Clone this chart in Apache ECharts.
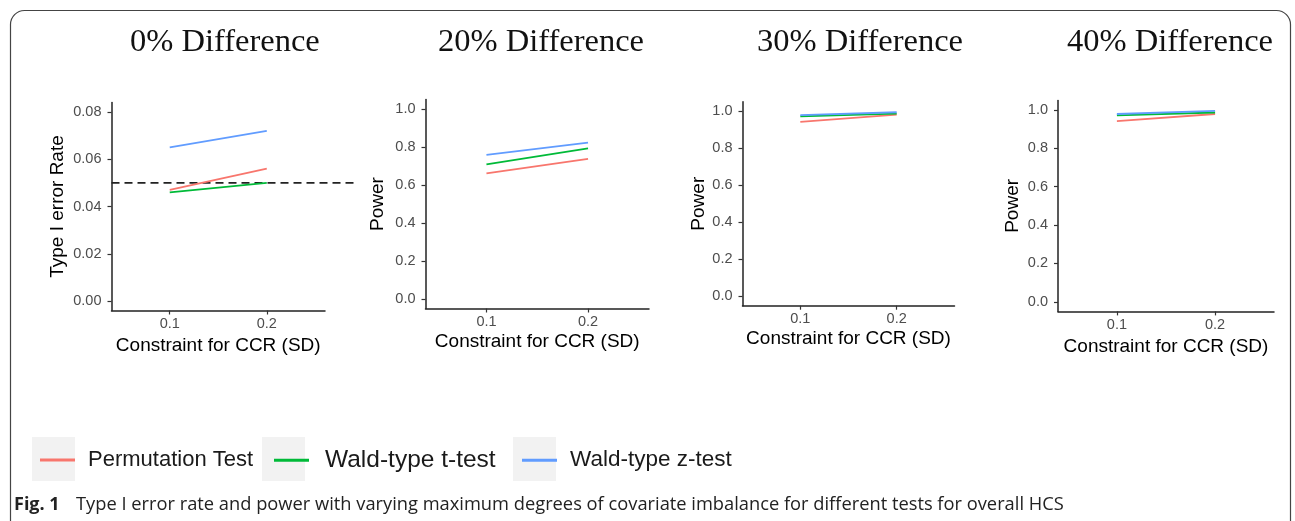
<!DOCTYPE html>
<html>
<head>
<meta charset="utf-8">
<script src="https://cdn.jsdelivr.net/npm/echarts@6/dist/echarts.min.js"></script>
<style>html,body{margin:0;padding:0;background:#fff}#c{width:1295px;height:521px}</style>
</head>
<body>
<div id="c"></div>
<script>
// ---- data ----
const panelTitles = ['0% Difference', '20% Difference', '30% Difference', '40% Difference'];
const yAxisNames = ['Type I error Rate', 'Power', 'Power', 'Power'];
const xName = 'Constraint for CCR (SD)';
const xValues = [0.1, 0.2];
const xTickLabels = [0.1, 0.2];
const yTicksError = [0, 0.02, 0.04, 0.06, 0.08];
const yTicksPower = [0, 0.2, 0.4, 0.6, 0.8, 1.0];
const seriesNames = ['Permutation Test', 'Wald-type t-test', 'Wald-type z-test'];
const permutationTest = [[0.047, 0.056], [0.661, 0.738], [0.941, 0.980], [0.942, 0.979]];
const waldT = [[0.046, 0.050], [0.709, 0.793], [0.971, 0.986], [0.972, 0.987]];
const waldZ = [[0.065, 0.072], [0.758, 0.823], [0.978, 0.993], [0.979, 0.995]];
const nominalLevel = 0.05;
const nominalLineX = [0.04, 0.29];
const captionBold = 'Fig. 1';
const captionText = 'Type I error rate and power with varying maximum degrees of covariate imbalance for different tests for overall HCS';

// ---- layout / style ----
const colors = ['#F8766D', '#00BA38', '#619CFF'];
const grids = [
  {left: 111.5, top: 102.5, width: 213.5, height: 208},
  {left: 425.5, top: 99.5, width: 223.5, height: 209},
  {left: 742.5, top: 101.7, width: 212, height: 204},
  {left: 1058, top: 100.4, width: 216, height: 211}
];
const titleLeft = [125, 433, 752, 1062];
const yNameGap = [44, 38, 33, 36];
const xNameGap = [26, 24, 24, 26];
const yRanges = [[-0.004, 0.084], [-0.05, 1.05], [-0.05, 1.05], [-0.05, 1.05]];

const sans = 'Liberation Sans, Arial, sans-serif';
const series = [];
const xAxes = [], yAxes = [];
grids.forEach((g, i) => {
  const yt = i === 0 ? yTicksError : yTicksPower;
  const dec = i === 0 ? 2 : 1;
  xAxes.push({
    gridIndex: i, type: 'value', min: 0.04, max: 0.26,
    name: xName, nameLocation: 'middle', nameGap: xNameGap[i],
    nameTextStyle: {fontFamily: sans, fontSize: 19, color: '#000'},
    axisLine: {show: true, onZero: false, lineStyle: {color: '#222', width: 1.5}},
    axisTick: {show: true, length: 4, customValues: xTickLabels, lineStyle: {color: '#333', width: 1.2}},
    axisLabel: {customValues: xTickLabels, margin: 6, fontFamily: sans, fontSize: 14.5, color: '#4D4D4D', formatter: v => v.toFixed(1)},
    splitLine: {show: false}
  });
  yAxes.push({
    gridIndex: i, type: 'value', min: yRanges[i][0], max: yRanges[i][1],
    name: yAxisNames[i], nameLocation: 'middle', nameGap: yNameGap[i],
    nameTextStyle: {fontFamily: sans, fontSize: 19, color: '#000'},
    axisLine: {show: true, onZero: false, lineStyle: {color: '#222', width: 1.5}},
    axisTick: {show: true, length: 4, customValues: yt, lineStyle: {color: '#333', width: 1.2}},
    axisLabel: {customValues: yt, margin: 10, fontFamily: sans, fontSize: 14.5, color: '#4D4D4D', formatter: v => v.toFixed(dec)},
    splitLine: {show: false}
  });
  const sets = [permutationTest[i], waldT[i], waldZ[i]];
  sets.forEach((vals, k) => {
    series.push({
      type: 'line', name: seriesNames[k], xAxisIndex: i, yAxisIndex: i,
      data: xValues.map((x, j) => [x, vals[j]]),
      symbol: 'none', color: colors[k],
      lineStyle: {color: colors[k], width: 1.8}, z: 3 + k, animation: false
    });
  });
});

// extra overlay grid for the nominal-level reference line (same scale as panel 1, wider span)
const g0 = grids[0];
const pxPerUnit = g0.width / (0.26 - 0.04);
grids.push({left: g0.left, top: g0.top, height: g0.height, width: (nominalLineX[1] - nominalLineX[0]) * pxPerUnit});
xAxes.push({gridIndex: 4, type: 'value', min: nominalLineX[0], max: nominalLineX[1], show: false, splitLine: {show: false}});
yAxes.push({gridIndex: 4, type: 'value', min: yRanges[0][0], max: yRanges[0][1], show: false, splitLine: {show: false}});
series.push({
  type: 'line', xAxisIndex: 4, yAxisIndex: 4,
  data: nominalLineX.map(x => [x, nominalLevel]),
  symbol: 'none', silent: true, z: 2, animation: false,
  lineStyle: {color: '#222', width: 1.8, type: [8, 5]}
});

const legendLeft = [35, 269, 517];
const legendPad = [8, 11, 8];
const legendFont = [22, 24.5, 22.5];
const legends = seriesNames.map((n, k) => ({
  data: [n], left: legendLeft[k], top: 458 - legendFont[k] / 2 - 3, icon: 'rect', itemWidth: 35, itemHeight: 3,
  textStyle: {fontFamily: sans, fontSize: legendFont[k], color: '#1a1a1a', padding: [0, 0, 0, legendPad[k]]},
  selectedMode: false
}));

const keyBoxX = [32, 262, 513];
const graphics = keyBoxX.map(x => ({
  type: 'rect', left: x, top: 437, shape: {width: 43, height: 44}, style: {fill: '#F2F2F2'}, z: -1
}));
graphics.push({
  type: 'rect', shape: {x: 10.5, y: 10.5, width: 1280, height: 620, r: 14},
  style: {fill: 'none', stroke: '#444', lineWidth: 1.2}, z: -2
});
graphics.push({
  type: 'text', left: 14, top: 496,
  style: {text: captionBold, font: 'bold 18px "Open Sans", sans-serif', fill: '#222'}
});
graphics.push({
  type: 'text', left: 76, top: 496,
  style: {text: captionText, font: '18.3px "Open Sans", sans-serif', fill: '#222'}
});

const chart = echarts.init(document.getElementById('c'), null, {renderer: 'canvas'});
chart.setOption({
  animation: false,
  backgroundColor: '#fff',
  title: panelTitles.map((t, i) => ({
    text: t, left: titleLeft[i], top: 21,
    textStyle: {fontFamily: 'Liberation Serif, Times New Roman, serif', fontSize: 32.5, fontWeight: 'normal', color: '#111'}
  })),
  grid: grids,
  xAxis: xAxes,
  yAxis: yAxes,
  legend: legends,
  series: series,
  graphic: graphics
});
</script>
</body>
</html>
